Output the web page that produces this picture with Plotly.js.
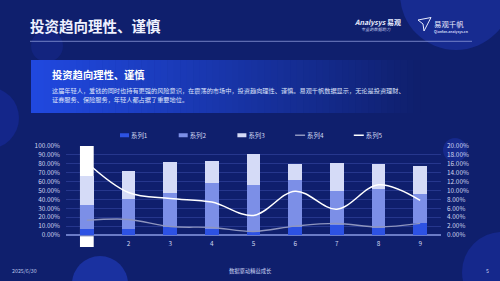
<!DOCTYPE html>
<html>
<head>
<meta charset="utf-8">
<script src="https://cdn.plot.ly/plotly-3.0.1.min.js"></script>
<style>
html,body{margin:0;padding:0;background:#0f1f6d;overflow:hidden;}
#chart{width:500px;height:281px;}
</style>
</head>
<body>
<div id="chart"></div>
<script>
// ---- data ----
const categories = [1, 2, 3, 4, 5, 6, 7, 8, 9];
const tickLabels = ['1', '2', '3', '4', '5', '6', '7', '8', '9'];
const seriesNames = ['系列1', '系列2', '系列3', '系列4', '系列5'];
const series1 = [6.7, 6.7, 8.6, 6.7, 3.0, 8.6, 10.8, 7.8, 13.0];
const series2 = [26.5, 33.3, 38.4, 51.5, 53.0, 53.0, 38.8, 44.4, 32.9];
const series3 = [32.8, 32.4, 34.7, 25.4, 35.0, 18.3, 31.0, 27.3, 32.1];
const series4 = [3.3, 3.5, 1.9, 1.7, 0.8, 2.0, 2.6, 1.8, 2.6];
const series5 = [16.3, 9.55, 8.2, 7.4, 4.4, 9.85, 5.8, 11.3, 7.8];
const leftTicks = [0, 10, 20, 30, 40, 50, 60, 70, 80, 90, 100];
const leftTickText = ['0.00%', '10.00%', '20.00%', '30.00%', '40.00%', '50.00%', '60.00%', '70.00%', '80.00%', '90.00%', '100.00%'];
const rightTicks = [0, 2, 4, 6, 8, 10, 12, 14, 16, 18, 20];
const rightTickText = ['0.00%', '2.00%', '4.00%', '6.00%', '8.00%', '10.00%', '12.00%', '14.00%', '16.00%', '18.00%', '20.00%'];
const highlighted = 1;

// ---- page geometry helpers ----
const W = 500, H = 281;
const M = {l: 66, r: 59, t: 146, b: 46};
const PW = W - M.l - M.r, PH = H - M.t - M.b;
const px = x => (x - M.l) / PW;
const py = y => (H - M.b - y) / PH;

const BG = '#0f1f6d';
const FONT = '"Noto Sans CJK SC", "Noto Sans", sans-serif';
const TXT = '#d2d8f2';

const shapes = [];
// decorative circles
function circle(cx, cy, r, color) {
  shapes.push({type: 'circle', xref: 'paper', yref: 'paper', layer: 'below',
    x0: px(cx - r), x1: px(cx + r), y0: py(cy + r), y1: py(cy - r),
    fillcolor: color, line: {width: 0}});
}
circle(456, -6, 56, '#172b90');
circle(-12, 118, 31, '#14268a');
circle(47, 46, 16, '#13247f');
circle(100, 284, 28, '#1a31a0');
circle(455, 150, 12, '#16298c');
circle(502, 272, 40, '#15288c');

// card with horizontal gradient
const cardX0 = 31, cardX1 = 420, cardY0 = 60, cardY1 = 113;
const c0 = [32, 72, 222], c1 = [15, 31, 109];
const N = 60;
for (let i = 0; i < N; i++) {
  const t = i / (N - 1);
  const k = Math.pow(t, 1.1);
  const col = c0.map((v, j) => Math.round(v + (c1[j] - v) * k));
  const xa = cardX0 + (cardX1 - cardX0) * i / N;
  const xb = cardX0 + (cardX1 - cardX0) * (i + 1) / N + 0.6;
  shapes.push({type: 'rect', xref: 'paper', yref: 'paper', layer: 'below',
    x0: px(xa), x1: px(xb), y0: py(cardY1), y1: py(cardY0),
    fillcolor: 'rgb(' + col.join(',') + ')', line: {width: 0}});
}
// title rule
shapes.push({type: 'line', xref: 'paper', yref: 'paper', layer: 'below',
  x0: px(30), x1: px(472), y0: py(41.3), y1: py(41.3),
  line: {color: '#8a98d8', width: 0.8}});
// small logo glyph
shapes.push({type: 'path', xref: 'paper', yref: 'paper', layer: 'above',
  path: 'M ' + px(418) + ' ' + py(20) + ' L ' + px(431) + ' ' + py(17.5) +
        ' L ' + px(424) + ' ' + py(31) + ' L ' + px(423) + ' ' + py(24) + ' Z',
  fillcolor: 'rgba(0,0,0,0)', line: {color: '#e8ecff', width: 1}});

// highlight for first category
const hw = 0.165;
shapes.push({type: 'rect', xref: 'x', yref: 'y', layer: 'between',
  x0: highlighted - hw, x1: highlighted + hw, y0: 0, y1: 100,
  fillcolor: '#ffffff', line: {width: 0}});
shapes.push({type: 'rect', xref: 'x', yref: 'paper', layer: 'above',
  x0: highlighted - hw, x1: highlighted + hw, y0: py(247), y1: py(236.2),
  fillcolor: '#ffffff', line: {width: 0}});

const annotations = [];
function txt(text, x, y, size, opts) {
  opts = opts || {};
  annotations.push(Object.assign({
    text: text, xref: 'paper', yref: 'paper', x: px(x), y: py(y),
    xanchor: 'left', yanchor: 'middle', showarrow: false,
    font: {family: FONT, size: size, color: opts.color || '#ffffff', weight: opts.weight || 400}
  }, opts.extra || {}));
}
txt('投资趋向理性、谨慎', 28, 25.5, 14.5, {weight: 700, color: '#eef1ff'});
txt('投资趋向理性、谨慎', 50, 74.5, 10.3, {weight: 700});
txt('这届年轻人，爱钱的同时也持有更强的风险意识，在震荡的市场中，投资趋向理性、谨慎。易观千帆数据显示，无论是投资理财、', 50, 90.5, 6.2, {color: '#dfe4fb'});
txt('证券服务、保险服务，年轻人都占据了重要地位。', 50, 99.5, 6.2, {color: '#dfe4fb'});
txt('<i>Analysys</i> 易观', 352, 22, 7, {weight: 700, color: '#e9edff'});
txt('<i>专业的数据助力</i>', 359, 29.5, 4.2, {color: '#c9d1f2'});
txt('易观千帆', 432, 23.5, 7.4, {color: '#e9edff'});
txt('Qianfan.analysys.cn', 432, 31, 3.4, {weight: 700, color: '#c9d1f2'});
txt('2025/6/30', 10, 270.5, 5.3, {color: '#b9c2e6'});
txt('数据驱动精益成长', 250, 271, 5.3, {color: '#c9d1f2', extra: {xanchor: 'center'}});
txt('5', 484, 270.5, 5.3, {color: '#c9d1f2'});

const barColors = ['#2d52e3', '#7c8fe7', '#d5dbf7'];
const barSeries = [series1, series2, series3];
const traces = barSeries.map((vals, i) => ({
  type: 'bar', name: seriesNames[i], x: categories, y: vals,
  marker: {color: barColors[i], line: {width: 0}}, yaxis: 'y'
}));
traces.push({type: 'scatter', mode: 'lines', name: seriesNames[3], x: categories, y: series4,
  yaxis: 'y2', line: {color: '#8e95bf', width: 1.4, shape: 'spline', smoothing: 1}});
traces.push({type: 'scatter', mode: 'lines', name: seriesNames[4], x: categories, y: series5,
  yaxis: 'y2', line: {color: '#ffffff', width: 1.5, shape: 'spline', smoothing: 1}});

const tickFont = {family: FONT, size: 6.4, color: TXT};
const layout = {
  width: W, height: H, autosize: false,
  margin: M,
  paper_bgcolor: BG, plot_bgcolor: 'rgba(0,0,0,0)',
  barmode: 'stack', bargap: 0.67,
  showlegend: true,
  legend: {orientation: 'h', x: px(91), xanchor: 'left', y: py(135.3), yanchor: 'middle',
    font: {family: FONT, size: 6.4, color: TXT}, bgcolor: 'rgba(0,0,0,0)',
    entrywidth: 13.7, entrywidthmode: 'pixels', itemwidth: 30, traceorder: 'normal'},
  xaxis: {range: [0.5, 9.5], tickmode: 'array', tickvals: categories, ticktext: tickLabels,
    showgrid: false, zeroline: false, showline: false, ticks: '', tickfont: tickFont,
    ticklabelstandoff: 4, fixedrange: true},
  yaxis: {range: [0, 100], tickmode: 'array', tickvals: leftTicks, ticktext: leftTickText,
    showgrid: true, gridcolor: 'rgba(80,100,200,0.45)', gridwidth: 0.8,
    zeroline: true, zerolinecolor: '#6a7bc6', zerolinewidth: 1.3, showline: false,
    ticks: '', tickfont: tickFont, ticklabelstandoff: 5, fixedrange: true},
  yaxis2: {range: [0, 20], overlaying: 'y', side: 'right', tickmode: 'array', tickvals: rightTicks,
    ticktext: rightTickText, showgrid: false, zeroline: false, showline: false,
    ticks: '', tickfont: tickFont, ticklabelstandoff: 5, fixedrange: true},
  shapes: shapes,
  annotations: annotations,
  font: {family: FONT}
};

Plotly.newPlot('chart', traces, layout, {staticPlot: true, displayModeBar: false}).then(gd => {
  // slimmer legend symbols placed right before their text, as in the reference
  gd.querySelectorAll('.legend .legendpoints path').forEach(p => {
    const d = p.getAttribute('d') || '';
    if (d.indexOf('M6,6') === 0) {
      p.setAttribute('d', 'M-4.5,2H4.5V-2H-4.5Z');
      p.setAttribute('transform', 'translate(33.5,0)');
    }
  });
  gd.querySelectorAll('.legend .legendlines path').forEach(p => {
    p.setAttribute('d', 'M28,0h10');
    p.removeAttribute('transform');
  });
});
</script>
</body>
</html>
